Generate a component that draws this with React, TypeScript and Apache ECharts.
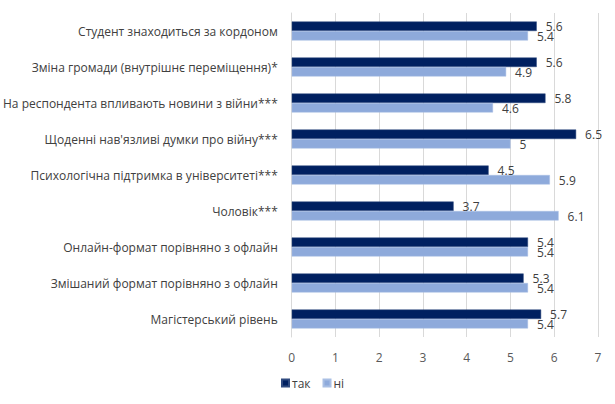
import React, { useEffect, useRef } from "react";
import * as echarts from "echarts";

const categories = [
  "Студент знаходиться за кордоном",
  "Зміна громади (внутрішнє переміщення)*",
  "На респондента впливають новини з війни***",
  "Щоденні нав'язливі думки про війну***",
  "Психологічна підтримка в університеті***",
  "Чоловік***",
  "Онлайн-формат порівняно з офлайн",
  "Змішаний формат порівняно з офлайн",
  "Магістерський рівень",
];
const yesValues = [5.6, 5.6, 5.8, 6.5, 4.5, 3.7, 5.4, 5.3, 5.7];
const noValues = [5.4, 4.9, 4.6, 5, 5.9, 6.1, 5.4, 5.4, 5.4];
const seriesNames = ["так", "ні"];
const xTicks = { min: 0, max: 7, interval: 1 };

const FONT = "Open Sans";

export default function App() {
  const ref = useRef<HTMLDivElement>(null);
  useEffect(() => {
    if (!ref.current) return;
    const chart = echarts.init(ref.current, null, { renderer: "svg" });
    const labelStyle = {
      show: true,
      position: "right" as const,
      distance: 9,
      color: "#404040",
      fontSize: 12,
      fontFamily: FONT,
    };
    chart.setOption({
      animation: false,
      backgroundColor: "#ffffff",
      textStyle: { fontFamily: FONT },
      grid: { left: 290, right: 17, top: 13, bottom: 67, containLabel: false },
      legend: {
        left: 281,
        top: 377,
        padding: 0,
        itemWidth: 7,
        itemHeight: 7,
        itemGap: 12,
        icon: "rect",
        textStyle: { color: "#404040", fontSize: 12, fontFamily: FONT, padding: [0, 0, 0, -2] },
        data: seriesNames,
      },
      xAxis: {
        type: "value",
        min: xTicks.min,
        max: xTicks.max,
        interval: xTicks.interval,
        axisLine: { show: false },
        axisTick: { show: false },
        axisLabel: { color: "#595959", fontSize: 12, fontFamily: FONT, margin: 14 },
        splitLine: { show: true, lineStyle: { color: "#d9d9d9", width: 1 } },
      },
      yAxis: {
        type: "category",
        inverse: true,
        data: categories,
        axisLine: { show: true, lineStyle: { color: "#d9d9d9", width: 1 } },
        axisTick: { show: false },
        axisLabel: { color: "#404040", fontSize: 12, fontFamily: FONT, margin: 14 },
      },
      series: [
        {
          name: seriesNames[0],
          type: "bar",
          data: yesValues,
          barWidth: 9.5,
          barGap: "0%",
          itemStyle: { color: "#002060", borderColor: "#2f4a7f", borderWidth: 0.5 },
          label: { ...labelStyle, offset: [0, 0] },
        },
        {
          name: seriesNames[1],
          type: "bar",
          data: noValues,
          barWidth: 9.5,
          barGap: "0%",
          itemStyle: { color: "#8eaadb", borderColor: "#a9bfe4", borderWidth: 0.5 },
          label: { ...labelStyle, offset: [0, 1] },
        },
      ],
    });
    return () => chart.dispose();
  }, []);
  return (
    <div
      ref={ref}
      style={{ position: "absolute", left: 0, top: 0, width: 615, height: 404 }}
    />
  );
}
